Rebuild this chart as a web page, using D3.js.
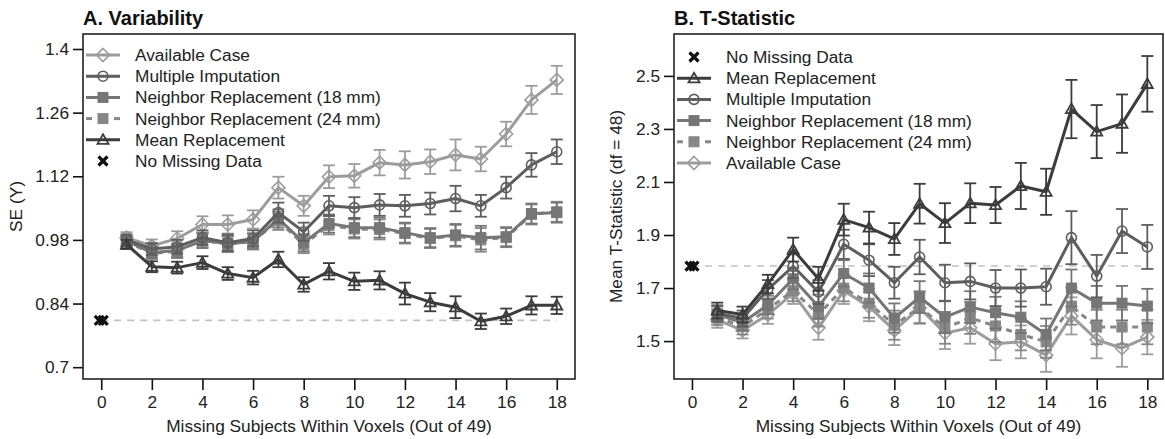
<!DOCTYPE html>
<html>
<head>
<meta charset="utf-8">
<script src="https://cdn.jsdelivr.net/npm/d3@7"></script>
<style>
  html, body { margin: 0; padding: 0; background: #fff; }
  svg { display: block; font-family: "Liberation Sans", Arial, Helvetica, sans-serif; }
</style>
</head>
<body>
<svg id="chart" width="1165" height="439"></svg>
<script>
// ---------- DATA ----------
const xValues = [1, 2, 3, 4, 5, 6, 7, 8, 9, 10, 11, 12, 13, 14, 15, 16, 17, 18];
const xTicks = [0, 2, 4, 6, 8, 10, 12, 14, 16, 18];

// Panel A: Variability (SE of Y)
const aTicks = [0.7, 0.84, 0.98, 1.12, 1.26, 1.4];
const aTickLabels = ["0.7", "0.84", "0.98", "1.12", "1.26", "1.4"];
const aAvailable = [0.985, 0.967, 0.983, 1.014, 1.014, 1.025, 1.095, 1.055, 1.119, 1.121, 1.150, 1.145, 1.152, 1.167, 1.158, 1.213, 1.288, 1.332];
const aAvailableErr = [0.012, 0.014, 0.016, 0.018, 0.020, 0.020, 0.024, 0.022, 0.025, 0.026, 0.028, 0.030, 0.027, 0.034, 0.027, 0.027, 0.031, 0.031];
const aMI = [0.980, 0.960, 0.965, 0.985, 0.974, 0.983, 1.040, 0.998, 1.055, 1.051, 1.057, 1.055, 1.060, 1.071, 1.055, 1.095, 1.145, 1.174];
const aMIErr = [0.012, 0.013, 0.015, 0.016, 0.018, 0.018, 0.022, 0.020, 0.022, 0.023, 0.024, 0.024, 0.024, 0.028, 0.024, 0.024, 0.026, 0.027];
const aNR18 = [0.978, 0.952, 0.957, 0.978, 0.972, 0.976, 1.027, 0.974, 1.016, 1.007, 1.007, 0.996, 0.985, 0.991, 0.985, 0.987, 1.038, 1.040];
const aNR18Err = [0.012, 0.012, 0.015, 0.016, 0.017, 0.017, 0.020, 0.019, 0.020, 0.021, 0.022, 0.022, 0.021, 0.024, 0.026, 0.021, 0.022, 0.022];
const aNR24 = [0.976, 0.950, 0.955, 0.980, 0.970, 0.978, 1.022, 0.970, 1.012, 1.004, 1.003, 0.994, 0.983, 0.989, 0.980, 0.985, 1.036, 1.042];
const aNR24Err = [0.012, 0.012, 0.015, 0.016, 0.017, 0.017, 0.020, 0.019, 0.020, 0.021, 0.022, 0.022, 0.021, 0.024, 0.026, 0.021, 0.022, 0.022];
const aMR = [0.970, 0.921, 0.919, 0.930, 0.906, 0.897, 0.937, 0.882, 0.911, 0.889, 0.891, 0.862, 0.843, 0.832, 0.801, 0.812, 0.836, 0.836];
const aMRErr = [0.010, 0.012, 0.013, 0.014, 0.014, 0.015, 0.017, 0.016, 0.018, 0.019, 0.020, 0.024, 0.020, 0.024, 0.017, 0.017, 0.020, 0.019];
const aNoMissing = 0.803;

// Panel B: T-Statistic
const bTicks = [1.5, 1.7, 1.9, 2.1, 2.3, 2.5];
const bTickLabels = ["1.5", "1.7", "1.9", "2.1", "2.3", "2.5"];
const bMR = [1.615, 1.600, 1.715, 1.845, 1.735, 1.958, 1.928, 1.885, 2.018, 1.945, 2.020, 2.013, 2.085, 2.063, 2.375, 2.290, 2.320, 2.470];
const bMRErr = [0.030, 0.030, 0.035, 0.045, 0.045, 0.060, 0.060, 0.060, 0.075, 0.075, 0.075, 0.068, 0.087, 0.087, 0.110, 0.100, 0.110, 0.105];
const bMI = [1.605, 1.585, 1.695, 1.782, 1.685, 1.865, 1.805, 1.720, 1.817, 1.720, 1.725, 1.700, 1.700, 1.705, 1.890, 1.745, 1.915, 1.855];
const bMIErr = [0.030, 0.030, 0.035, 0.045, 0.045, 0.055, 0.060, 0.060, 0.065, 0.068, 0.068, 0.068, 0.070, 0.068, 0.100, 0.080, 0.083, 0.083];
const bNR18 = [1.600, 1.570, 1.636, 1.735, 1.630, 1.755, 1.700, 1.587, 1.666, 1.590, 1.628, 1.607, 1.590, 1.525, 1.700, 1.643, 1.643, 1.632];
const bNR18Err = [0.030, 0.030, 0.035, 0.040, 0.045, 0.050, 0.055, 0.055, 0.060, 0.060, 0.060, 0.060, 0.060, 0.060, 0.070, 0.065, 0.065, 0.065];
const bNR24 = [1.590, 1.555, 1.620, 1.690, 1.600, 1.700, 1.643, 1.560, 1.628, 1.550, 1.587, 1.557, 1.525, 1.497, 1.632, 1.553, 1.553, 1.553];
const bNR24Err = [0.030, 0.030, 0.035, 0.040, 0.045, 0.050, 0.055, 0.055, 0.060, 0.060, 0.060, 0.060, 0.060, 0.060, 0.070, 0.065, 0.065, 0.065];
const bAC = [1.580, 1.540, 1.600, 1.680, 1.550, 1.690, 1.630, 1.540, 1.625, 1.530, 1.550, 1.490, 1.497, 1.447, 1.595, 1.505, 1.473, 1.515];
const bACErr = [0.030, 0.030, 0.035, 0.040, 0.045, 0.050, 0.055, 0.055, 0.060, 0.060, 0.060, 0.062, 0.062, 0.063, 0.070, 0.070, 0.070, 0.065];
const bNoMissing = 1.783;

// ---------- STYLES ----------
const styles = {
  AC:   { name: "Available Case",             color: "#9c9c9c", shape: "diamond",  dash: null },
  MI:   { name: "Multiple Imputation",        color: "#5e5e5e", shape: "circle",   dash: null },
  NR18: { name: "Neighbor Replacement (18 mm)", color: "#767676", shape: "square", dash: null },
  NR24: { name: "Neighbor Replacement (24 mm)", color: "#878787", shape: "square", dash: "6,5" },
  MR:   { name: "Mean Replacement",           color: "#3c3c3c", shape: "triangle", dash: null },
  NM:   { name: "No Missing Data",            color: "#111111", shape: "x",        dash: null }
};

const FS = 17.3;
const svg = d3.select("#chart");

function drawMarker(g, shape, cx, cy, color) {
  if (shape === "circle") {
    g.append("circle").attr("cx", cx).attr("cy", cy).attr("r", 5)
      .attr("fill", "none").attr("stroke", color).attr("stroke-width", 1.6);
  } else if (shape === "diamond") {
    const s = 6.5;
    g.append("path").attr("d", `M${cx},${cy - s}L${cx + s},${cy}L${cx},${cy + s}L${cx - s},${cy}Z`)
      .attr("fill", "none").attr("stroke", color).attr("stroke-width", 1.6);
  } else if (shape === "square") {
    const s = 5;
    g.append("rect").attr("x", cx - s).attr("y", cy - s).attr("width", 2 * s).attr("height", 2 * s)
      .attr("fill", color).attr("stroke", color).attr("stroke-width", 1);
  } else if (shape === "triangle") {
    const s = 5.5;
    g.append("path").attr("d", `M${cx},${cy - s}L${cx + s},${cy + s * 0.75}L${cx - s},${cy + s * 0.75}Z`)
      .attr("fill", "none").attr("stroke", color).attr("stroke-width", 1.8);
  } else if (shape === "x") {
    const s = 4.5;
    g.append("path").attr("d", `M${cx - s},${cy - s}L${cx + s},${cy + s}M${cx - s},${cy + s}L${cx + s},${cy - s}`)
      .attr("stroke", color).attr("stroke-width", 3.2).attr("stroke-linecap", "butt");
  }
}

function drawPanel(cfg) {
  const { left, right, top, bottom, xDomain, yDomain } = cfg;
  const x = d3.scaleLinear().domain(xDomain).range([left, right]);
  const y = d3.scaleLinear().domain(yDomain).range([bottom, top]);
  const g = svg.append("g");

  // Title
  g.append("text").attr("x", left).attr("y", 25).attr("font-size", 20).attr("font-weight", "bold")
    .attr("fill", "#111").text(cfg.title);

  // Axes
  const yAxis = d3.axisLeft(y).tickValues(cfg.yTicks).tickFormat((d, i) => cfg.yTickLabels[i])
    .tickSize(10).tickPadding(4);
  const ya = g.append("g").attr("transform", `translate(${left},0)`).call(yAxis);
  ya.select(".domain").remove();
  ya.selectAll("line").attr("stroke", "#111").attr("stroke-width", 1.6);
  ya.selectAll("text").attr("font-size", FS).attr("fill", "#222").attr("font-family", "Liberation Sans, Arial, sans-serif");

  const xAxis = d3.axisBottom(x).tickValues(xTicks).tickFormat(d3.format("d")).tickSize(11).tickPadding(6);
  const xa = g.append("g").attr("transform", `translate(0,${bottom})`).call(xAxis);
  xa.select(".domain").remove();
  xa.selectAll("line").attr("stroke", "#111").attr("stroke-width", 1.6);
  xa.selectAll("text").attr("font-size", FS).attr("fill", "#222").attr("font-family", "Liberation Sans, Arial, sans-serif");

  // Axis labels
  g.append("text").attr("x", (left + right) / 2).attr("y", 432).attr("text-anchor", "middle")
    .attr("font-size", FS).attr("fill", "#222").text("Missing Subjects Within Voxels (Out of 49)");
  g.append("text").attr("transform", `translate(${cfg.yLabelX},${(top + bottom) / 2}) rotate(-90)`)
    .attr("text-anchor", "middle").attr("font-size", FS).attr("fill", "#222").text(cfg.yLabel);

  // Frame
  g.append("rect").attr("x", left).attr("y", top).attr("width", right - left).attr("height", bottom - top)
    .attr("fill", "none").attr("stroke", "#222").attr("stroke-width", 1.6);

  // Reference dashed line
  g.append("line").attr("x1", x(0)).attr("x2", x(18)).attr("y1", y(cfg.noMissing)).attr("y2", y(cfg.noMissing))
    .attr("stroke", "#c2c2c2").attr("stroke-width", 1.6).attr("stroke-dasharray", "7,6");

  // Series
  const line = d3.line().x((d) => x(d.x)).y((d) => y(d.v));
  cfg.series.forEach((s) => {
    const st = styles[s.key];
    const pts = xValues.map((xv, i) => ({ x: xv, v: s.values[i], e: s.err[i] }));
    const sg = g.append("g");
    // error bars
    pts.forEach((p) => {
      const cx = x(p.x), y1 = y(p.v - p.e), y2 = y(p.v + p.e);
      sg.append("line").attr("x1", cx).attr("x2", cx).attr("y1", y1).attr("y2", y2)
        .attr("stroke", st.color).attr("stroke-width", 1.8);
      [y1, y2].forEach((yy) => {
        sg.append("line").attr("x1", cx - 6).attr("x2", cx + 6).attr("y1", yy).attr("y2", yy)
          .attr("stroke", st.color).attr("stroke-width", 1.8);
      });
    });
    sg.append("path").datum(pts).attr("d", line).attr("fill", "none")
      .attr("stroke", st.color).attr("stroke-width", 3)
      .attr("stroke-dasharray", st.dash).attr("stroke-linejoin", "round");
    pts.forEach((p) => drawMarker(sg, st.shape, x(p.x), y(p.v), st.color));
  });

  // No missing data marker
  drawMarker(g, "x", x(0) - 2, y(cfg.noMissing), styles.NM.color);
  drawMarker(g, "x", x(0) + 2, y(cfg.noMissing), styles.NM.color);

  // Legend
  const lg = g.append("g");
  cfg.legend.forEach((key, i) => {
    const st = styles[key];
    const ly = cfg.legendTop + i * 21.2;
    const lx0 = left + 3, lx1 = left + 37, mx = left + 20;
    if (key === "NM") {
      drawMarker(lg, "x", mx, ly, st.color);
    } else {
      if (st.dash) {
        lg.append("line").attr("x1", lx0).attr("x2", lx0 + 6).attr("y1", ly).attr("y2", ly)
          .attr("stroke", st.color).attr("stroke-width", 3);
        lg.append("line").attr("x1", lx1 - 6).attr("x2", lx1).attr("y1", ly).attr("y2", ly)
          .attr("stroke", st.color).attr("stroke-width", 3);
      } else {
        lg.append("line").attr("x1", lx0).attr("x2", lx1).attr("y1", ly).attr("y2", ly)
          .attr("stroke", st.color).attr("stroke-width", 3);
      }
      drawMarker(lg, st.shape, mx, ly, st.color);
    }
    lg.append("text").attr("x", left + 52).attr("y", ly + 6).attr("font-size", FS)
      .attr("fill", "#222").text(st.name);
  });
}

drawPanel({
  title: "A. Variability",
  left: 83, right: 575, top: 34, bottom: 379,
  xDomain: [-0.72, 18.72], yDomain: [0.674, 1.433],
  yTicks: aTicks, yTickLabels: aTickLabels,
  yLabel: "SE (Y)", yLabelX: 22,
  noMissing: aNoMissing,
  legendTop: 55,
  legend: ["AC", "MI", "NR18", "NR24", "MR", "NM"],
  series: [
    { key: "AC", values: aAvailable, err: aAvailableErr },
    { key: "NR24", values: aNR24, err: aNR24Err },
    { key: "NR18", values: aNR18, err: aNR18Err },
    { key: "MI", values: aMI, err: aMIErr },
    { key: "MR", values: aMR, err: aMRErr }
  ]
});

drawPanel({
  title: "B. T-Statistic",
  left: 674, right: 1163, top: 34, bottom: 379,
  xDomain: [-0.71, 18.62], yDomain: [1.357, 2.658],
  yTicks: bTicks, yTickLabels: bTickLabels,
  yLabel: "Mean T-Statistic (df = 48)", yLabelX: 622,
  noMissing: bNoMissing,
  legendTop: 57,
  legend: ["NM", "MR", "MI", "NR18", "NR24", "AC"],
  series: [
    { key: "AC", values: bAC, err: bACErr },
    { key: "NR24", values: bNR24, err: bNR24Err },
    { key: "NR18", values: bNR18, err: bNR18Err },
    { key: "MI", values: bMI, err: bMIErr },
    { key: "MR", values: bMR, err: bMRErr }
  ]
});
</script>
</body>
</html>
